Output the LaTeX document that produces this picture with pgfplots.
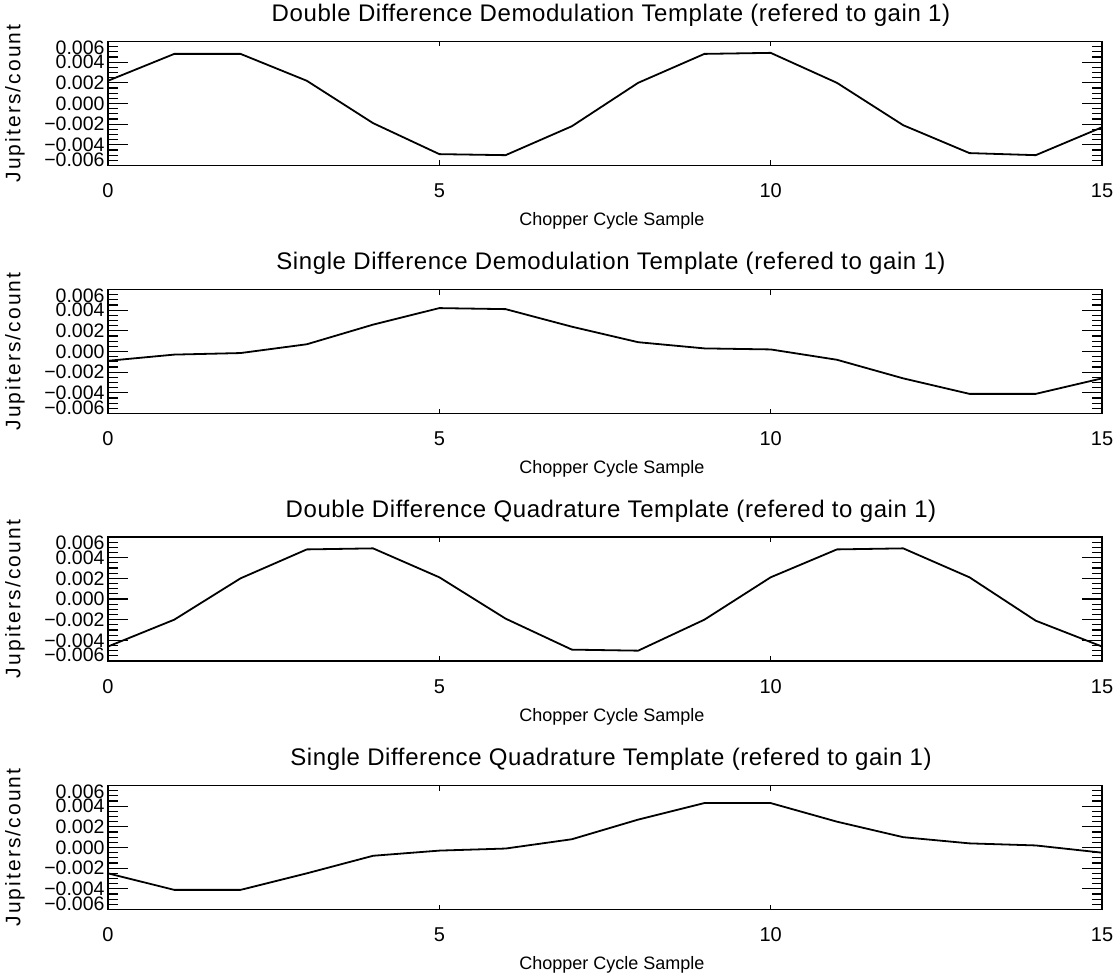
\documentclass[border=0pt]{standalone}
\usepackage{fontspec}
\setmainfont{Liberation Sans}
\usepackage{pgfplots}
\pgfplotsset{compat=1.18}

% Shared look of the four template panels
\pgfplotsset{
  template/.style={
    scale only axis, width=994pt, height=124pt,
    anchor=north west,
    xmin=0, xmax=15, ymin=-0.006, ymax=0.006,
    axis line style={line width=1.5pt},
    tick align=inside,
    tick style={line width=1.2pt, black},
    major tick length=20pt, minor tick length=10pt,
    % x axis: only small ticks at 0,5,10,15
    xtick=\empty,
    extra x ticks={0,5,10,15},
    extra x tick labels={0,5,10,15},
    extra x tick style={major tick length=5pt},
    xticklabel style={anchor=base, yshift=-32pt, font=\fontsize{20}{24}\selectfont},
    % y axis
    scaled y ticks=false,
    ytick={-0.004,-0.002,0,0.002,0.004},
    yticklabels={−0.004,−0.002,0.000,0.002,0.004},
    extra y ticks={-0.0054,0.0054},
    extra y tick labels={−0.006,0.006},
    extra y tick style={major tick length=0pt},
    minor ytick={-0.0055,-0.005,-0.0045,-0.0035,-0.003,-0.0025,-0.0015,-0.001,-0.0005,
                 0.0005,0.001,0.0015,0.0025,0.003,0.0035,0.0045,0.005,0.0055},
    yticklabel style={font=\fontsize{19.5}{22}\selectfont},
    title style={at={(axis description cs:0.5,1)}, anchor=base, yshift=14pt, xshift=6pt,
                 font=\fontsize{24}{28}\selectfont\addfontfeature{LetterSpace=2.5}},
    xlabel={Chopper Cycle Sample},
    xlabel style={at={(axis description cs:0.5,0)}, anchor=base, yshift=-60pt, xshift=7pt,
                  font=\fontsize{18}{21}\selectfont},
    ylabel={Jupiters/count},
    ylabel style={at={(axis description cs:-0.0835,0.5)}, anchor=south, inner sep=0pt,
                  font=\fontsize{21}{24}\selectfont\addfontfeature{LetterSpace=10}},
  },
  trace/.style={black, line width=1.8pt, mark=none},
}

\begin{document}
\begin{tikzpicture}
\useasboundingbox (0pt,0pt) rectangle (1116pt,-976pt);

% Double difference demodulation
\begin{axis}[template, at={(108pt,-41.5pt)},
  title={Double Difference Demodulation Template (refered to gain 1)}]
\addplot[trace] coordinates {
  (0,0.0022) (1,0.0048) (2,0.0048) (3,0.0022) (4,-0.0019) (5,-0.0049)
  (6,-0.0050) (7,-0.0022) (8,0.0020) (9,0.0048) (10,0.0049) (11,0.0020)
  (12,-0.0021) (13,-0.0048) (14,-0.0050) (15,-0.0023)};
\end{axis}

% Single difference demodulation
\begin{axis}[template, at={(108pt,-289.5pt)},
  title={Single Difference Demodulation Template (refered to gain 1)}]
\addplot[trace] coordinates {
  (0,-0.0009) (1,-0.0003) (2,-0.00015) (3,0.0007) (4,0.0026) (5,0.0042)
  (6,0.0041) (7,0.0024) (8,0.0009) (9,0.0003) (10,0.0002) (11,-0.0008)
  (12,-0.0026) (13,-0.0041) (14,-0.0041) (15,-0.0026)};
\end{axis}

% Double difference quadrature
\begin{axis}[template, at={(108pt,-537pt)},
  title={Double Difference Quadrature Template (refered to gain 1)}]
\addplot[trace] coordinates {
  (0,-0.0046) (1,-0.0020) (2,0.0020) (3,0.0048) (4,0.0049) (5,0.0021)
  (6,-0.0019) (7,-0.0049) (8,-0.0050) (9,-0.0020) (10,0.0021) (11,0.0048)
  (12,0.0049) (13,0.0021) (14,-0.0021) (15,-0.0046)};
\end{axis}

% Single difference quadrature
\begin{axis}[template, at={(108pt,-785.5pt)},
  title={Single Difference Quadrature Template (refered to gain 1)}]
\addplot[trace] coordinates {
  (0,-0.0025) (1,-0.0041) (2,-0.0041) (3,-0.0025) (4,-0.0008) (5,-0.0003)
  (6,-0.0001) (7,0.0008) (8,0.0027) (9,0.0043) (10,0.0043) (11,0.0025)
  (12,0.0010) (13,0.0004) (14,0.0002) (15,-0.0005)};
\end{axis}
\end{tikzpicture}
\end{document}
